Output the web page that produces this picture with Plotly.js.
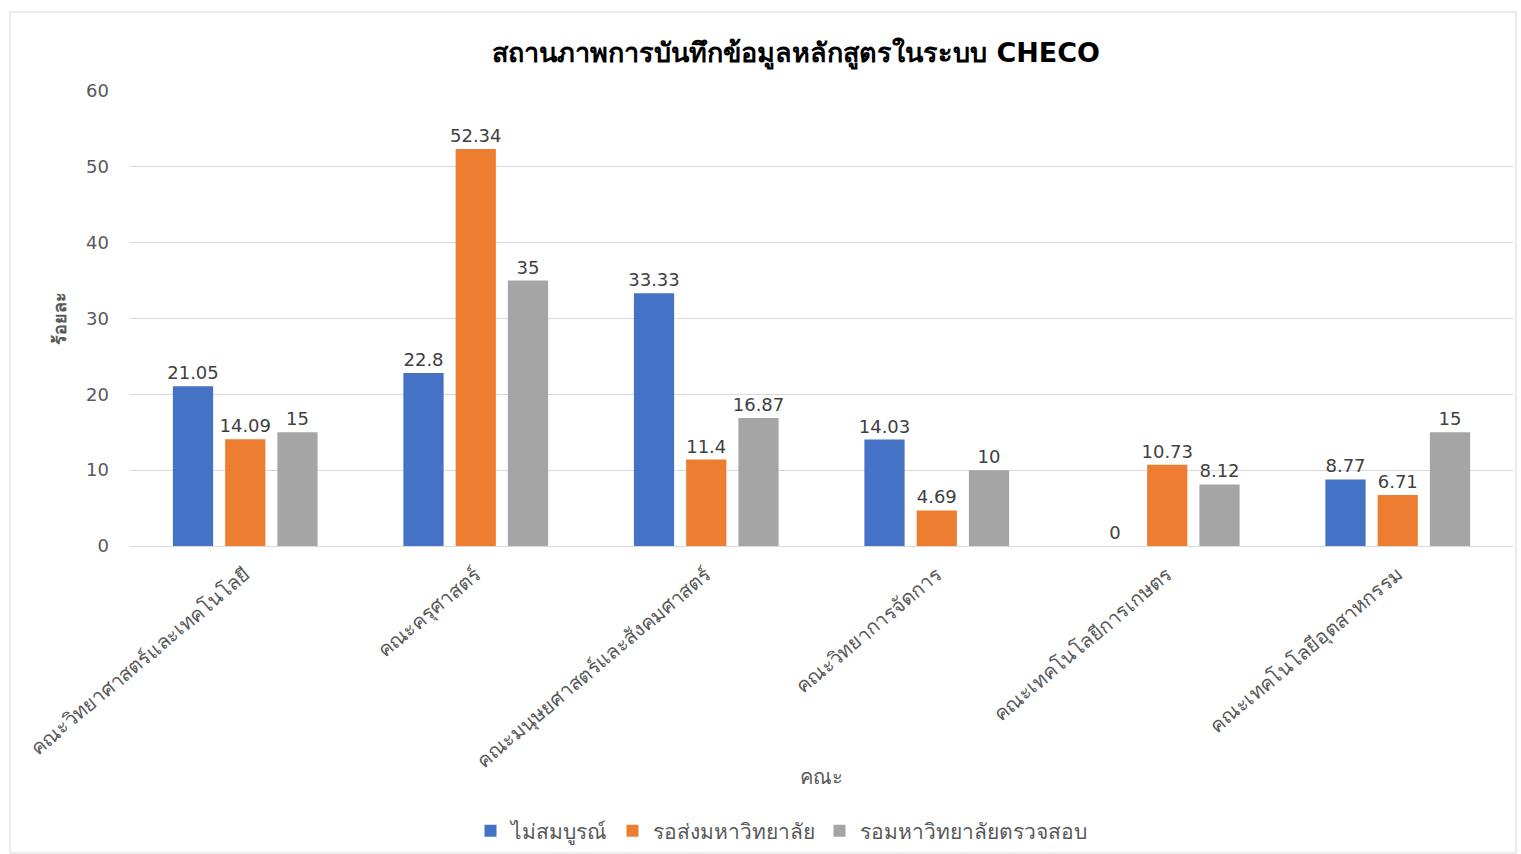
<!DOCTYPE html>
<html>
<head>
<meta charset="utf-8">
<script src="https://cdn.plot.ly/plotly-3.0.1.min.js"></script>
<style>html,body{margin:0;padding:0;background:#fff;}#chart{width:1521px;height:854px;}</style>
</head>
<body>
<div id="chart"></div>
<script>
const categories = [
  'คณะวิทยาศาสตร์และเทคโนโลยี',
  'คณะครุศาสตร์',
  'คณะมนุษยศาสตร์และสังคมศาสตร์',
  'คณะวิทยาการจัดการ',
  'คณะเทคโนโลยีการเกษตร',
  'คณะเทคโนโลยีอุตสาหกรรม'
];
const seriesNames = ['ไม่สมบูรณ์', 'รอส่งมหาวิทยาลัย', 'รอมหาวิทยาลัยตรวจสอบ'];
const incomplete = [21.05, 22.8, 33.33, 14.03, 0, 8.77];
const waitingSubmit = [14.09, 52.34, 11.4, 4.69, 10.73, 6.71];
const waitingReview = [15, 35, 16.87, 10, 8.12, 15];
const yTicks = [0, 10, 20, 30, 40, 50, 60];

const colors = ['#4472C4', '#ED7D31', '#A5A5A5'];
const font = 'Tahoma, "DejaVu Sans", "Noto Sans", sans-serif';
const numFont = '"DejaVu Sans", Verdana, sans-serif';
const allSeries = [incomplete, waitingSubmit, waitingReview];

const traces = allSeries.map((vals, i) => ({
  type: 'bar',
  name: seriesNames[i],
  x: categories,
  y: vals,
  marker: {color: colors[i]},
  text: vals.map(v => String(v)),
  textposition: 'outside',
  textangle: 0,
  constraintext: 'none',
  cliponaxis: false,
  textfont: {family: numFont, size: 18, color: '#404040'},
  hoverinfo: 'x+y+name'
}));

const W = 1521, H = 854, L = 130, R = 8, T = 91, B = 308;
const pw = W - L - R, ph = H - T - B;
const px = x => (x - L) / pw;
const py = y => (H - B - y) / ph;

const layout = {
  width: W, height: H,
  margin: {l: L, r: R, t: T, b: B, autoexpand: false},
  paper_bgcolor: '#fff', plot_bgcolor: '#fff',
  barmode: 'group',
  bargap: 0.32,
  bargroupgap: 0.23,
  showlegend: true,
  title: {
    text: '<b>สถานภาพการบันทึกข้อมูลหลักสูตรในระบบ CHECO</b>',
    font: {family: font, size: 27, color: '#000'},
    x: 796 / W, xanchor: 'center',
    y: 1 - 53 / H, yanchor: 'middle'
  },
  xaxis: {
    type: 'category',
    tickangle: -40,
    tickfont: {family: font, size: 20, color: '#595959'},
    showline: true, linecolor: '#D9D9D9', linewidth: 1,
    showgrid: false, ticks: '',
    ticklabelstandoff: 8,
    automargin: false
  },
  yaxis: {
    range: [0, 60],
    tickvals: yTicks,
    tickfont: {family: numFont, size: 18, color: '#595959'},
    showgrid: true, gridcolor: '#D9D9D9', gridwidth: 1,
    zeroline: false, showline: false, ticks: '',
    ticklabelstandoff: 20,
    title: {text: '<b>ร้อยละ</b>', font: {family: font, size: 18, color: '#595959'}, standoff: 14},
    automargin: false
  },
  annotations: [{
    text: 'คณะ', xref: 'paper', yref: 'paper',
    x: px(822), y: py(777), xanchor: 'center', yanchor: 'middle',
    showarrow: false, font: {family: font, size: 20, color: '#595959'}
  }],
  legend: {
    orientation: 'h',
    x: px(781), xref: 'paper', xanchor: 'center',
    y: py(831), yanchor: 'middle',
    font: {family: font, size: 21, color: '#595959'},
    itemwidth: 30,
    traceorder: 'normal'
  },
  shapes: [{
    type: 'rect', xref: 'paper', yref: 'paper',
    x0: px(10), x1: px(1516), y0: py(853), y1: py(12),
    line: {color: '#D9D9D9', width: 1}, fillcolor: 'rgba(0,0,0,0)', layer: 'below'
  }]
};

Plotly.newPlot('chart', traces, layout, {displayModeBar: false, staticPlot: true});
</script>
</body>
</html>
